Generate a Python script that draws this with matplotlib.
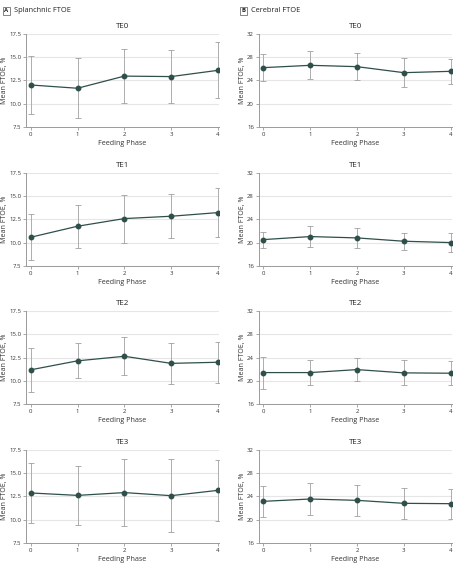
import matplotlib
matplotlib.use("Agg")
import matplotlib.pyplot as plt

phases = [0, 1, 2, 3, 4]
titles = ["TE0", "TE1", "TE2", "TE3"]

# Splanchnic FTOE (panel A)
spl_mean = [
    [12.0, 11.65, 12.95, 12.9, 13.57],
    [10.57, 11.75, 12.57, 12.82, 13.21],
    [11.19, 12.15, 12.64, 11.88, 12.0],
    [12.86, 12.6, 12.9, 12.57, 13.14],
]
spl_err = [
    [3.15, 3.2, 2.93, 2.82, 3.0],
    [2.47, 2.32, 2.57, 2.36, 2.66],
    [2.34, 1.88, 2.02, 2.23, 2.22],
    [3.2, 3.2, 3.6, 3.9, 3.3],
]
# Cerebral FTOE (panel B)
cer_mean = [
    [26.17, 26.57, 26.34, 25.31, 25.54],
    [20.51, 21.03, 20.8, 20.23, 20.0],
    [21.43, 21.43, 21.94, 21.38, 21.32],
    [23.14, 23.54, 23.31, 22.8, 22.74],
]
cer_err = [
    [2.3, 2.37, 2.37, 2.5, 2.17],
    [1.37, 1.83, 1.7, 1.46, 1.57],
    [2.75, 2.2, 2.0, 2.13, 2.05],
    [2.66, 2.75, 2.7, 2.7, 2.6],
]
spl_ticks = [7.5, 10.0, 12.5, 15.0, 17.5]
cer_ticks = [16, 20, 24, 28, 32]

plt.rcParams['font.family'] = ['Open Sans', 'DejaVu Sans']
fig = plt.figure(figsize=(4.67, 5.67), dpi=100)

line_color = "#2f4f4a"
err_color = "#a0a0a0"
grid_color = "#e6e6e6"
spine_color = "#9a9a9a"
fs = 4.3

col_left = [0.0557, 0.554]
width = 0.413
row_bottom = [0.776, 0.531, 0.287, 0.0423]
height = 0.1647
ylabel_x = [-0.092, -0.068]

def draw(ax, means, errs, ticks, tick_fmt, title, lx):
    ax.errorbar(phases, means, yerr=errs, color=line_color, lw=0.9,
                marker='o', ms=3.2, mfc=line_color, mec=line_color,
                ecolor=err_color, elinewidth=0.6, capsize=2.2, capthick=0.6,
                zorder=3)
    ax.set_ylim(ticks[0], ticks[-1])
    ax.set_xlim(-0.1, 4.02)
    ax.set_yticks(ticks)
    ax.set_yticklabels([tick_fmt(t) for t in ticks])
    ax.set_xticks(phases)
    ax.grid(axis='y', color=grid_color, lw=0.8, zorder=0)
    ax.set_axisbelow(True)
    for s in ['top', 'right']:
        ax.spines[s].set_visible(False)
    for s in ['left', 'bottom']:
        ax.spines[s].set_color(spine_color)
        ax.spines[s].set_linewidth(0.7)
    ax.tick_params(labelsize=fs, length=2, width=0.6, color=spine_color,
                   labelcolor="#333333", pad=1.5)
    ax.set_xlabel("Feeding Phase", fontsize=fs + 0.8, color="#333333", labelpad=2)
    ax.set_ylabel("Mean FTOE, %", fontsize=fs + 0.8, color="#333333")
    ax.yaxis.set_label_coords(lx, 0.5)
    ax.set_title(title, fontsize=fs + 1.4, color="#222222", pad=4)

for r in range(4):
    axA = fig.add_axes([col_left[0], row_bottom[r], width, height])
    draw(axA, spl_mean[r], spl_err[r], spl_ticks, lambda t: f"{t:.1f}", titles[r], ylabel_x[0])
    axB = fig.add_axes([col_left[1], row_bottom[r], width, height])
    draw(axB, cer_mean[r], cer_err[r], cer_ticks, lambda t: f"{t:d}", titles[r], ylabel_x[1])

# Panel labels
for x_box, label, text in [(3 / 467, "A", "Splanchnic FTOE"), (240 / 467, "B", "Cerebral FTOE")]:
    y = 1 - 11 / 567
    fig.text(x_box + 0.0075, y, label, fontsize=fs, fontweight='bold', ha='center', va='center',
             color="#222222",
             bbox=dict(boxstyle='square,pad=0.25', fc='white', ec='#555555', lw=0.5))
    fig.text(x_box + 0.024, y, text, fontsize=fs + 1.0, ha='left', va='center', color="#222222")

fig.savefig("out.png", dpi=100)
